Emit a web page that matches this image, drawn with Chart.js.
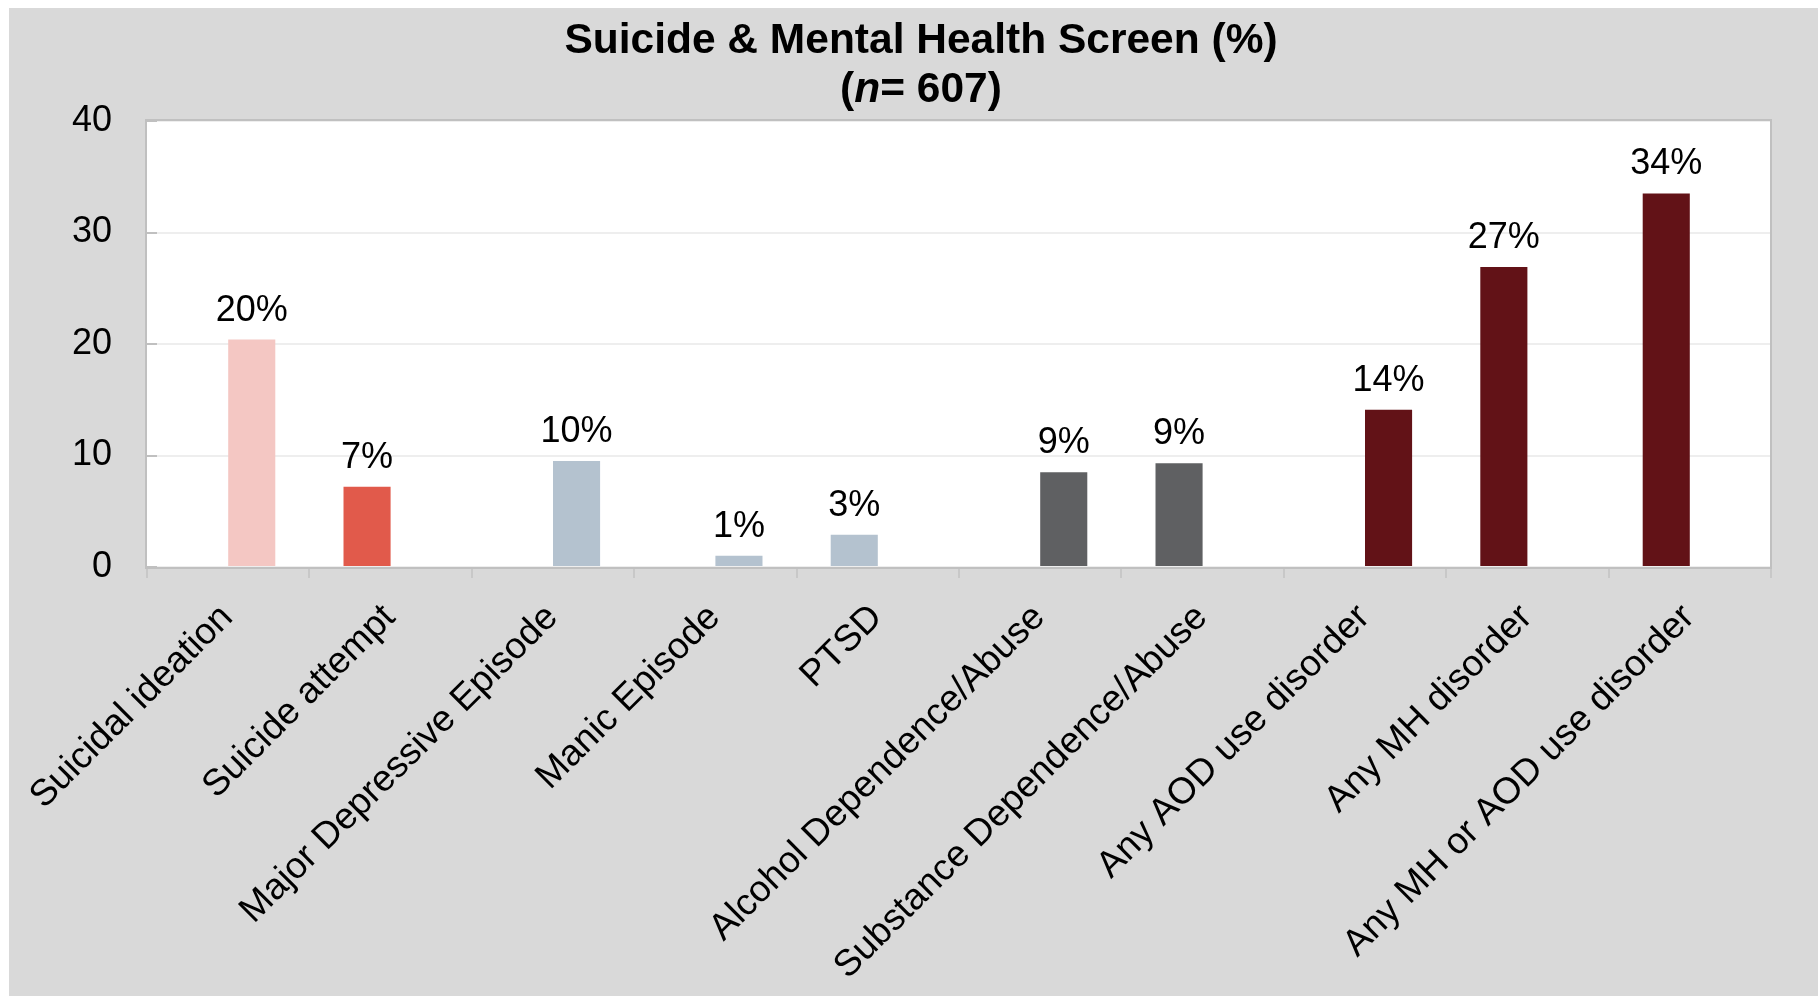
<!DOCTYPE html>
<html>
<head>
<meta charset="utf-8">
<script src="https://cdn.jsdelivr.net/npm/chart.js@4.4.0/dist/chart.umd.min.js"></script>
<style>
  html, body { margin: 0; padding: 0; background: #fff; }
  #wrap { width: 1818px; height: 996px; }
</style>
</head>
<body>
<div id="wrap"><canvas id="chartScreen" width="1818" height="996"></canvas></div>
<script>
// ---- data ----
const categories = [
  "Suicidal ideation", "Suicide attempt", "Major Depressive Episode", "Manic Episode", "PTSD",
  "Alcohol Dependence/Abuse", "Substance Dependence/Abuse", "Any AOD use disorder",
  "Any MH disorder", "Any MH or AOD use disorder"
];
const values = [20.4, 7.2, 9.5, 1.0, 2.9, 8.5, 9.3, 14.1, 26.9, 33.5];
// which slot of the cluster each bar sits in (L = first series, R = second)
const slot = ["R", "L", "R", "R", "L", "R", "L", "R", "L", "L"];
const barColors = [
  "#F4C7C3", "#E15A4B", "#B4C2CF", "#B4C2CF", "#B4C2CF",
  "#5F6062", "#5F6062", "#621217", "#621217", "#621217"
];
const yTicks = [0, 10, 20, 30, 40];
const titleLine1 = "Suicide & Mental Health Screen (%)";
const titleN = 607;

const FONT = "'Liberation Sans', Arial, sans-serif";

// two series, each only filled where the bar sits in that slot
const leftData = values.map((v, i) => slot[i] === "L" ? v : null);
const rightData = values.map((v, i) => slot[i] === "R" ? v : null);

// background, plot frame, inner y ticks, value labels, title
const decor = {
  id: "decor",
  beforeDraw(chart) {
    const { ctx, chartArea: a } = chart;
    ctx.save();
    ctx.fillStyle = "#FFFFFF";
    ctx.fillRect(0, 0, chart.width, chart.height);
    ctx.fillStyle = "#D9D9D9";
    ctx.fillRect(9, 8, chart.width - 9, chart.height - 8);
    ctx.fillStyle = "#FFFFFF";
    ctx.fillRect(a.left, a.top, a.right - a.left, a.bottom - a.top);
    ctx.restore();
  },
  afterDatasetsDraw(chart) {
    const { ctx, chartArea: a } = chart;
    const y = chart.scales.y;
    ctx.save();
    // frame
    ctx.strokeStyle = "#C0C0C0";
    ctx.lineWidth = 2;
    ctx.strokeRect(a.left - 1, a.top - 1, a.right - a.left + 1, a.bottom - a.top + 2);
    // y tick marks drawn inside the plot
    ctx.beginPath();
    yTicks.forEach(t => {
      const py = Math.round(y.getPixelForValue(t));
      ctx.moveTo(a.left, py);
      ctx.lineTo(a.left + 10, py);
    });
    ctx.stroke();

    // value labels
    ctx.fillStyle = "#000";
    ctx.font = "36px " + FONT;
    ctx.textAlign = "center";
    ctx.textBaseline = "alphabetic";
    chart.data.datasets.forEach((ds, d) => {
      const meta = chart.getDatasetMeta(d);
      ds.data.forEach((v, i) => {
        if (v == null) return;
        const bar = meta.data[i];
        ctx.fillText(Math.round(v) + "%", bar.x, bar.y - 19);
      });
    });

    // title (second line has italic n)
    const cx = 921;
    ctx.font = "bold 42.5px " + FONT;
    ctx.fillText(titleLine1, cx, 53);
    const p1 = "(", p2 = "n", p3 = "= " + titleN + ")";
    const fB = "bold 42.5px " + FONT, fI = "italic bold 42.5px " + FONT;
    ctx.font = fB; const w1 = ctx.measureText(p1).width, w3 = ctx.measureText(p3).width;
    ctx.font = fI; const w2 = ctx.measureText(p2).width;
    let x = cx - (w1 + w2 + w3) / 2;
    ctx.textAlign = "left";
    ctx.font = fB; ctx.fillText(p1, x, 102); x += w1;
    ctx.font = fI; ctx.fillText(p2, x, 102); x += w2;
    ctx.font = fB; ctx.fillText(p3, x, 102);
    ctx.restore();
  }
};

new Chart(document.getElementById("chartScreen"), {
  type: "bar",
  data: {
    labels: categories,
    datasets: [
      { data: leftData, backgroundColor: barColors, borderWidth: 0 },
      { data: rightData, backgroundColor: barColors, borderWidth: 0 }
    ]
  },
  options: {
    responsive: false,
    animation: false,
    devicePixelRatio: 1,
    categoryPercentage: 0.58,
    barPercentage: 1.0,
    layout: { padding: { left: 0, right: 47, top: 121, bottom: 0 } },
    plugins: {
      legend: { display: false },
      tooltip: { enabled: false },
      title: { display: false }
    },
    scales: {
      x: {
        grid: { drawOnChartArea: false, drawTicks: true, tickLength: 11, color: "#C8C8C8", lineWidth: 2 },
        border: { display: false },
        ticks: {
          autoSkip: false, minRotation: 45, maxRotation: 45, padding: 18, labelOffset: -1,
          color: "#000", font: { size: 37, family: FONT }
        },
        afterFit: s => { s.height = 429; }
      },
      y: {
        min: 0, max: 40,
        afterBuildTicks: s => { s.ticks = yTicks.map(v => ({ value: v })); },
        grid: { color: "#EEEEEE", lineWidth: 2, drawTicks: false },
        border: { display: false },
        ticks: { padding: 35, color: "#000", font: { size: 36, family: FONT } },
        afterFit: s => { s.width = 147; }
      }
    }
  },
  plugins: [decor]
});
</script>
</body>
</html>
